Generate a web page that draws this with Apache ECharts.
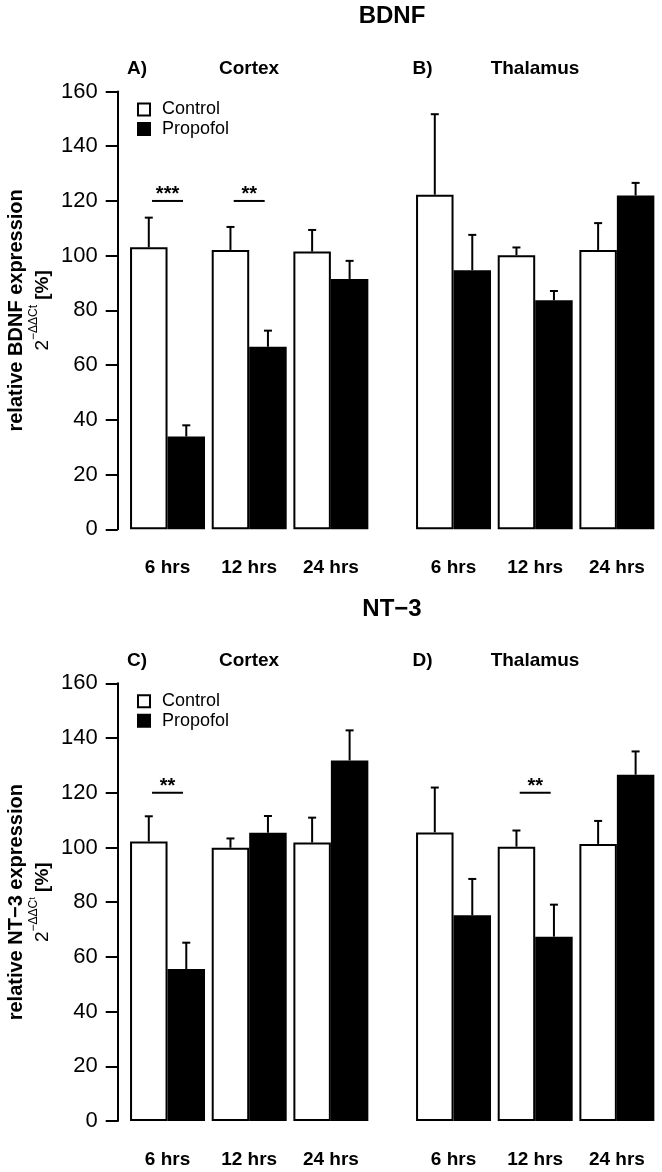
<!DOCTYPE html>
<html><head><meta charset="utf-8">
<script src="https://cdn.jsdelivr.net/npm/echarts@6/dist/echarts.min.js"></script>
<style>html,body{margin:0;padding:0;background:#fff}#c{width:662px;height:1172px}</style>
</head><body><div id="c"></div>
<script>
// ---- data ----
const categories = ['6 hrs', '12 hrs', '24 hrs'];
const yMin = 0, yMax = 160, yStep = 20;

const bdnfCortexControl     = [103.1, 102.1, 101.5];
const bdnfCortexControlErr  = [10.8, 8.4, 7.9];
const bdnfCortexPropofol    = [33.9, 66.7, 91.5];
const bdnfCortexPropofolErr = [4.1, 5.9, 6.6];
const bdnfThalControl       = [122.3, 100.2, 102.1];
const bdnfThalControlErr    = [29.4, 2.8, 9.8];
const bdnfThalPropofol      = [94.7, 83.7, 122.0];
const bdnfThalPropofolErr   = [12.9, 3.4, 4.6];

const nt3CortexControl      = [102.2, 99.9, 101.8];
const nt3CortexControlErr   = [9.2, 3.4, 9.1];
const nt3CortexPropofol     = [55.6, 105.4, 131.8];
const nt3CortexPropofolErr  = [9.6, 6.1, 11.0];
const nt3ThalControl        = [105.5, 100.3, 101.3];
const nt3ThalControlErr     = [16.4, 5.9, 8.4];
const nt3ThalPropofol       = [75.2, 67.4, 126.6];
const nt3ThalPropofolErr    = [13.3, 11.7, 8.5];

const sigLevel = 120;
const bdnfCortexSig = ['***', '**', ''];
const bdnfThalSig   = ['', '', ''];
const nt3CortexSig  = ['**', '', ''];
const nt3ThalSig    = ['', '**', ''];

// ---- layout ----
const FONT = 'Liberation Sans, Arial, Helvetica, sans-serif';
const catGap = 0.082;
const panels = [
  {left: 126.7, top: 91.5, yAxisShow: true,  ctrl: bdnfCortexControl, ctrlErr: bdnfCortexControlErr, prop: bdnfCortexPropofol, propErr: bdnfCortexPropofolErr, sig: bdnfCortexSig},
  {left: 412.7, top: 91.5, yAxisShow: false, ctrl: bdnfThalControl,   ctrlErr: bdnfThalControlErr,   prop: bdnfThalPropofol,   propErr: bdnfThalPropofolErr,   sig: bdnfThalSig},
  {left: 126.7, top: 683.3, yAxisShow: true,  ctrl: nt3CortexControl, ctrlErr: nt3CortexControlErr, prop: nt3CortexPropofol, propErr: nt3CortexPropofolErr, sig: nt3CortexSig},
  {left: 412.7, top: 683.3, yAxisShow: false, ctrl: nt3ThalControl,   ctrlErr: nt3ThalControlErr,   prop: nt3ThalPropofol,   propErr: nt3ThalPropofolErr,   sig: nt3ThalSig}
];
const gridW = 245, gridH = 437.8;

const grid = [], xAxis = [], yAxis = [], series = [];
panels.forEach((p, i) => {
  grid.push({left: p.left, top: p.top, width: gridW, height: gridH, containLabel: false});
  xAxis.push({
    type: 'category', gridIndex: i, data: categories,
    axisLine: {show: false}, axisTick: {show: false},
    axisLabel: {fontSize: 19, fontWeight: 'bold', color: '#000', margin: 29, fontFamily: FONT}
  });
  yAxis.push({
    type: 'value', gridIndex: i, min: yMin, max: yMax, interval: yStep,
    show: p.yAxisShow, offset: 9,
    axisLine: {show: true, lineStyle: {color: '#000', width: 2}},
    axisTick: {show: true, length: 12, lineStyle: {color: '#000', width: 2}},
    axisLabel: {fontSize: 22, color: '#000', margin: 20, fontFamily: FONT},
    splitLine: {show: false}
  });
  series.push({
    name: 'Control', type: 'bar', xAxisIndex: i, yAxisIndex: i, data: p.ctrl,
    barGap: '0%', barCategoryGap: (catGap * 100) + '%',
    itemStyle: {color: '#fff', borderColor: '#000', borderWidth: 2},
    emphasis: {disabled: true}, z: 2
  });
  series.push({
    name: 'Propofol', type: 'bar', xAxisIndex: i, yAxisIndex: i, data: p.prop,
    barGap: '0%', barCategoryGap: (catGap * 100) + '%',
    itemStyle: {color: '#000', borderColor: '#000', borderWidth: 2},
    emphasis: {disabled: true}, z: 2
  });
  // error bars (upper whiskers)
  const errData = categories.map((c, k) => [k, p.ctrl[k], p.ctrlErr[k], p.prop[k], p.propErr[k]]);
  series.push({
    type: 'custom', xAxisIndex: i, yAxisIndex: i, data: errData, z: 3, silent: true,
    renderItem: function (params, api) {
      const k = api.value(0);
      const band = api.size([1, 0])[0];
      const half = band * (1 - catGap) / 2;
      const children = [];
      [[1, 2, -half / 2], [3, 4, half / 2]].forEach(([mi, ei, dx]) => {
        const base = api.coord([k, api.value(mi)]);
        const top = api.coord([k, api.value(mi) + api.value(ei)]);
        const x = base[0] + dx;
        children.push({type: 'line', shape: {x1: x, y1: base[1], x2: x, y2: top[1]}, style: {stroke: '#000', lineWidth: 2}});
        children.push({type: 'line', shape: {x1: x - 4, y1: top[1], x2: x + 4, y2: top[1]}, style: {stroke: '#000', lineWidth: 2}});
      });
      return {type: 'group', children: children};
    }
  });
  // significance markers
  const sigData = categories.map((c, k) => [k, sigLevel, p.sig[k]]).filter(d => d[2] !== '');
  if (sigData.length) {
    series.push({
      type: 'custom', xAxisIndex: i, yAxisIndex: i, data: sigData, z: 3, silent: true,
      dimensions: ['x', 'y', 'label'],
      renderItem: function (params, api) {
        const d = sigData[params.dataIndex];
        const pt = api.coord([d[0], d[1]]);
        return {type: 'group', children: [
          {type: 'line', shape: {x1: pt[0] - 15.5, y1: pt[1], x2: pt[0] + 15.5, y2: pt[1]}, style: {stroke: '#000', lineWidth: 2}},
          {type: 'text', x: pt[0], y: pt[1] - 6, style: {text: d[2], fill: '#000', font: 'bold 20px ' + FONT, align: 'center', verticalAlign: 'middle'}}
        ]};
      }
    });
  }
});

const legendCommon = {
  orient: 'vertical', left: 137, padding: 0, itemWidth: 12, itemHeight: 12, itemGap: 1.5,
  icon: 'rect', selectedMode: false, data: ['Control', 'Propofol'],
  textStyle: {fontSize: 18, color: '#000', lineHeight: 18, fontFamily: FONT, padding: [0, 0, 0, 7]}
};

function gText(text, x, y, size, bold) {
  return {type: 'text', x: x, y: y, style: {text: text, fill: '#000', font: (bold ? 'bold ' : '') + size + 'px ' + FONT, align: 'center', verticalAlign: 'middle'}};
}
function yName(first, sup, subT, cy) {
  return [
    {type: 'text', x: 16, y: cy, rotation: Math.PI / 2, style: {text: first, fill: '#000', font: 'bold 20px ' + FONT, align: 'center', verticalAlign: 'middle'}},
    {type: 'text', x: 40, y: cy, rotation: Math.PI / 2, style: {
      text: '{n|2}{s|' + sup + '}' + (subT ? '{u|' + subT + '}' : '') + '{b| [%]}', align: 'center', verticalAlign: 'middle',
      rich: {
        n: {fontSize: 19, fontFamily: FONT, fill: '#000', lineHeight: 24, verticalAlign: 'bottom'},
        b: {fontSize: 19, fontWeight: 'bold', fontFamily: FONT, fill: '#000', lineHeight: 24, verticalAlign: 'bottom'},
        s: {fontSize: 12, fontFamily: FONT, fill: '#000', lineHeight: 12, verticalAlign: 'top'},
        u: {fontSize: 9, fontFamily: FONT, fill: '#000', lineHeight: 19, verticalAlign: 'top'}
      }
    }}
  ];
}

const graphic = [
  gText('BDNF', 392, 16.5, 24, true),
  gText('NT\u22123', 392, 609.5, 24, true),
  gText('A)', 137, 69.2, 19, true), gText('Cortex', 249, 69.2, 19, true),
  gText('B)', 422.5, 69.2, 19, true), gText('Thalamus', 535, 69.2, 19, true),
  gText('C)', 137, 661, 19, true), gText('Cortex', 249, 661, 19, true),
  gText('D)', 422.5, 661, 19, true), gText('Thalamus', 535, 661, 19, true)
].concat(yName('relative BDNF expression', '\u2212\u0394\u0394Ct', '', 310.4))
 .concat(yName('relative NT\u22123 expression', '\u2212\u0394\u0394C', 't', 902.2));

const chart = echarts.init(document.getElementById('c'), null, {renderer: 'canvas'});
chart.setOption({
  backgroundColor: '#fff',
  animation: false,
  textStyle: {fontFamily: FONT},
  grid: grid, xAxis: xAxis, yAxis: yAxis, series: series,
  legend: [
    Object.assign({}, legendCommon, {top: 100.5}),
    Object.assign({}, legendCommon, {top: 692.2})
  ],
  graphic: graphic
});
</script></body></html>
